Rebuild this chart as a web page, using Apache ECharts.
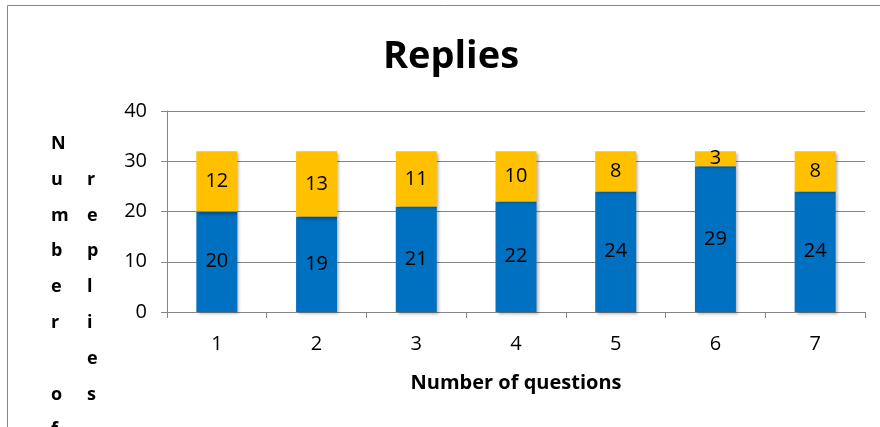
<!DOCTYPE html>
<html><head><meta charset="utf-8">
<script src="https://cdn.jsdelivr.net/npm/echarts@6/dist/echarts.min.js"></script>
<style>html,body{margin:0;padding:0;background:#fff}#c{width:880px;height:427px}</style>
</head><body><div id="c"></div>
<script>
const categories = ['1','2','3','4','5','6','7'];
const seriesBlue = [20,19,21,22,24,29,24];
const seriesYellow = [12,13,11,10,8,3,8];
const yTicks = {min:0, max:40, interval:10};
const titleText = 'Replies';
const xName = 'Number of questions';
const yNameCol1 = ['N','u','m','b','e','r','','o','f'];
const yNameCol2 = ['','r','e','p','l','i','e','s'];

const FONT = 'Open Sans';
const chart = echarts.init(document.getElementById('c'), null, {renderer:'canvas'});
const shadow = {shadowBlur:3, shadowOffsetX:2, shadowOffsetY:2, shadowColor:'rgba(0,0,0,0.3)'};
chart.setOption({
  animation:false,
  backgroundColor:'#fff',
  title:{text:titleText, left:446, top:33, textAlign:'center',
    textStyle:{fontFamily:FONT, fontSize:38, fontWeight:'bold', color:'#000'}},
  grid:{left:167, right:15, top:111, bottom:115, containLabel:false},
  graphic:[
    {type:'rect', shape:{x:7.5, y:5.5, width:900, height:500}, style:{fill:null, stroke:'#888', lineWidth:1}, silent:true, z:-1},
    {type:'text', left:51, top:126, style:{text:yNameCol1.join('\n'), fontFamily:FONT, fontSize:18, fontWeight:'bold', lineHeight:35.8, fill:'#000', align:'center'}},
    {type:'text', left:87, top:126, style:{text:yNameCol2.join('\n'), fontFamily:FONT, fontSize:18, fontWeight:'bold', lineHeight:35.8, fill:'#000', align:'center'}}
  ],
  xAxis:{type:'category', data:categories, name:xName, nameLocation:'middle', nameGap:61,
    nameTextStyle:{fontFamily:FONT, fontSize:20, fontWeight:'bold', color:'#000'},
    axisLine:{lineStyle:{color:'#868686', width:1}},
    axisTick:{show:true, length:6, inside:false, alignWithLabel:false, lineStyle:{color:'#868686'}},
    axisLabel:{fontFamily:FONT, fontSize:20, color:'#000', margin:22},
    splitLine:{show:false}},
  yAxis:{type:'value', min:yTicks.min, max:yTicks.max, interval:yTicks.interval,
    axisLine:{show:true, lineStyle:{color:'#868686', width:1}},
    axisTick:{show:true, length:6, lineStyle:{color:'#868686'}},
    axisLabel:{fontFamily:FONT, fontSize:20, color:'#000', margin:20},
    splitLine:{show:true, lineStyle:{color:'#868686', width:1}}},
  series:[
    {type:'bar', stack:'a', data:seriesBlue, barWidth:41,
      itemStyle:Object.assign({color:'#0070C0'}, shadow),
      label:{show:true, position:'inside', fontFamily:FONT, fontSize:20, color:'#000'}},
    {type:'bar', stack:'a', data:seriesYellow, barWidth:41,
      itemStyle:Object.assign({color:'#FFC000'}, shadow),
      label:{show:true, position:'inside', fontFamily:FONT, fontSize:20, color:'#000'}}
  ]
});
</script></body></html>
